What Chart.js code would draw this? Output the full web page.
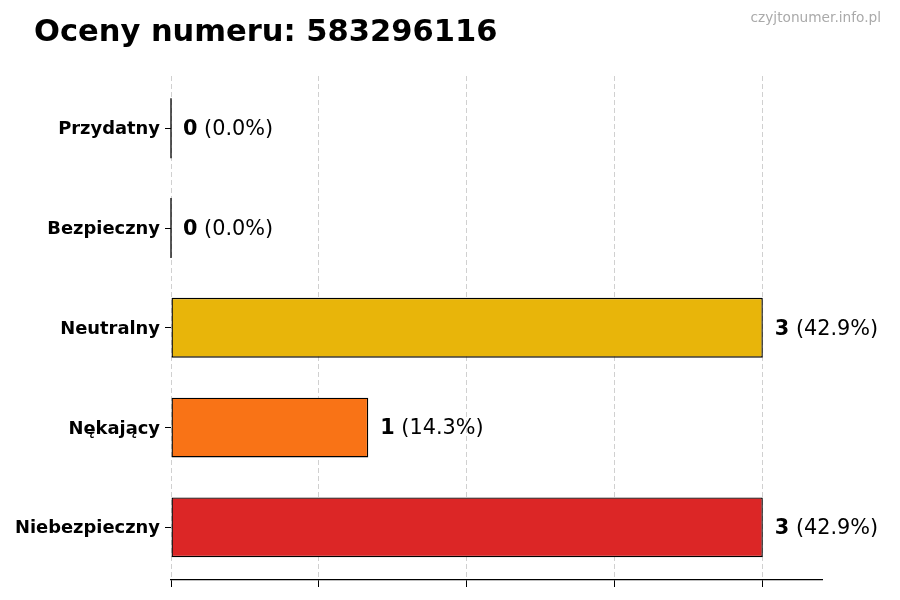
<!DOCTYPE html>
<html>
<head>
<meta charset="utf-8">
<script src="https://cdn.jsdelivr.net/npm/chart.js@4.4.1/dist/chart.umd.min.js"></script>
<style>
  html, body { margin: 0; padding: 0; background: #fff; }
  #wrap { width: 900px; height: 600px; position: relative; }
</style>
</head>
<body>
<div id="wrap"><canvas id="chart" width="900" height="600"></canvas></div>
<script>
// values
const categories = ['Przydatny', 'Bezpieczny', 'Neutralny', 'Nękający', 'Niebezpieczny'];
const counts = [0, 0, 3, 1, 3];
const barColors = ['#2E9E4A', '#3B7DD8', '#E8B50A', '#F97316', '#DC2626'];
const xTicks = [0, 0.75, 1.5, 2.25, 3];
const xMax = 3.3;
const titleText = 'Oceny numeru: 583296116';
const siteText = 'czyjtonumer.info.pl';

const total = counts.reduce((a, b) => a + b, 0);

Chart.defaults.font.family = "'DejaVu Sans', sans-serif";

// title + watermark in the top band
const headerPlugin = {
    id: 'header',
    afterDraw(chart) {
        const ctx = chart.ctx;
        ctx.save();
        ctx.fillStyle = '#000';
        ctx.font = "bold 30.5px 'DejaVu Sans'";
        ctx.textAlign = 'left';
        ctx.textBaseline = 'alphabetic';
        ctx.fillText(titleText, 34, 41);
        ctx.fillStyle = '#aaaaaa';
        ctx.font = "13.7px 'DejaVu Sans'";
        ctx.textAlign = 'right';
        ctx.fillText(siteText, 881, 22);
        ctx.restore();
    }
};

// categories sit a little inside the grid area (matplotlib-like margins)
const bandFit = {
    id: 'bandFit',
    afterLayout(chart) {
        const y = chart.scales.y;
        const top = chart.chartArea.top + 2.4;
        const bottom = chart.chartArea.bottom - 2.8;
        y._startPixel = top;
        y._endPixel = bottom;
        y._length = bottom - top;
    }
};

// "n (p%)" after each bar, and outline for zero-width bars
const valueLabels = {
    id: 'valueLabels',
    afterDatasetsDraw(chart) {
        const ctx = chart.ctx;
        const meta = chart.getDatasetMeta(0);
        ctx.save();
        meta.data.forEach((bar, i) => {
            const v = counts[i];
            if (v === 0) {
                ctx.strokeStyle = '#000';
                ctx.lineWidth = 1.3;
                ctx.beginPath();
                ctx.moveTo(bar.x, bar.y - bar.height / 2);
                ctx.lineTo(bar.x, bar.y + bar.height / 2);
                ctx.stroke();
            }
            const pct = total ? (v / total * 100).toFixed(1) : '0.0';
            let x = bar.x + 12;
            const y = bar.y + 1.5;
            ctx.fillStyle = '#000';
            ctx.textBaseline = 'middle';
            ctx.textAlign = 'left';
            ctx.font = "bold 20.8px 'DejaVu Sans'";
            const num = String(v);
            ctx.fillText(num, x, y);
            x += ctx.measureText(num).width;
            ctx.font = "20.8px 'DejaVu Sans'";
            ctx.fillText(' (' + pct + '%)', x, y);
        });
        ctx.restore();
    }
};

new Chart(document.getElementById('chart'), {
    type: 'bar',
    data: {
        labels: categories,
        datasets: [{
            data: counts,
            backgroundColor: barColors,
            borderColor: '#000',
            borderWidth: 1.4,
            borderSkipped: false,
            categoryPercentage: 1,
            barPercentage: 0.6
        }]
    },
    options: {
        indexAxis: 'y',
        responsive: false,
        animation: false,
        layout: { padding: { left: 0, top: 76, right: 78, bottom: 0 } },
        plugins: {
            legend: { display: false },
            tooltip: { enabled: false }
        },
        scales: {
            x: {
                min: 0,
                max: xMax,
                z: 1,
                afterBuildTicks: (scale) => {
                    scale.ticks = xTicks.map(v => ({ value: v }));
                },
                afterFit: (scale) => { scale.height = 20; },
                ticks: { display: false },
                grid: {
                    color: 'rgba(170,170,170,0.55)',
                    lineWidth: 1,
                    drawTicks: true,
                    tickLength: 7,
                    tickColor: '#000',
                    tickWidth: 1
                },
                border: { display: true, color: '#000', width: 1.3, dash: [5, 3] }
            },
            y: {
                afterFit: (scale) => { scale.width = 171; },
                ticks: {
                    color: '#000',
                    padding: 5,
                    labelOffset: 1.5,
                    font: { size: 17.9, weight: 'bold' }
                },
                grid: {
                    offset: false,
                    drawOnChartArea: false,
                    drawTicks: true,
                    tickLength: 6,
                    color: '#000'
                },
                border: { display: false }
            }
        }
    },
    plugins: [bandFit, headerPlugin, valueLabels]
});
</script>
</body>
</html>
